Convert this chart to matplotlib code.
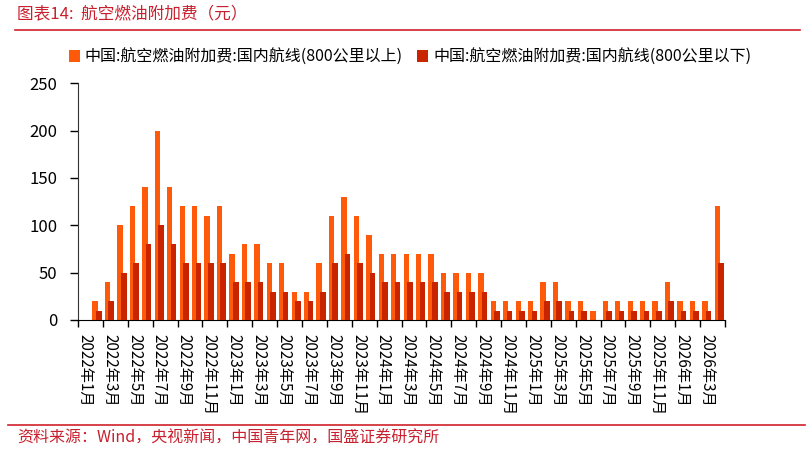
import numpy as np
import matplotlib
matplotlib.use("Agg")
import matplotlib.pyplot as plt
from matplotlib.lines import Line2D

plt.rcParams["font.family"] = ["Noto Sans CJK SC", "DejaVu Sans"]
plt.rcParams["axes.unicode_minus"] = False

# 国内航线燃油附加费（元），按月
above_800 = [20, 40, 100, 120, 140, 200, 140, 120, 120, 110, 120, 70, 80,
             80, 60, 60, 30, 30, 60, 110, 130, 110, 90, 70, 70, 70, 70, 70,
             50, 50, 50, 50, 20, 20, 20, 20, 40, 40, 20, 20, 10, 20, 20, 20,
             20, 20, 40, 20, 20, 20, 120]
below_800 = [10, 20, 50, 60, 80, 100, 80, 60, 60, 60, 60, 40, 40,
             40, 30, 30, 20, 20, 30, 60, 70, 60, 50, 40, 40, 40, 40, 40,
             30, 30, 30, 30, 10, 10, 10, 10, 20, 20, 10, 10, 0, 10, 10, 10,
             10, 10, 20, 10, 10, 10, 60]

x_labels = ["2022年1月", "2022年3月", "2022年5月", "2022年7月", "2022年9月", "2022年11月",
            "2023年1月", "2023年3月", "2023年5月", "2023年7月", "2023年9月", "2023年11月",
            "2024年1月", "2024年3月", "2024年5月", "2024年7月", "2024年9月", "2024年11月",
            "2025年1月", "2025年3月", "2025年5月", "2025年7月", "2025年9月", "2025年11月",
            "2026年1月", "2026年3月"]

label_above = "中国:航空燃油附加费:国内航线(800公里以上)"
label_below = "中国:航空燃油附加费:国内航线(800公里以下)"

c_orange = "#FF5A0A"
c_dark = "#C82400"
c_red = "#C8202E"

fig = plt.figure(figsize=(8.1, 4.5), dpi=100)
ax = fig.add_axes([78 / 810, 1 - 320 / 450, (725 - 78) / 810, (320 - 83.3) / 450])

n = len(above_800)
pos = np.arange(n) + 1  # 每个柱组所在月格的起点
ax.bar(pos + 0.38, above_800, width=0.43, color=c_orange, label=label_above, zorder=2)
ax.bar(pos + 0.675, below_800, width=0.45, color=c_dark, label=label_below, zorder=3)

ax.set_xlim(0, n + 1)
ax.set_ylim(0, 250)
ax.set_yticks(np.arange(0, 251, 50))
ax.tick_params(axis="y", labelsize=12, length=6, width=1, direction="out", pad=9)

ax.set_xticks(np.arange(0, n + 2, 2))
ax.set_xticklabels([])
ax.set_xticks(np.arange(len(x_labels)) * 2 + 0.55, x_labels, minor=True)
ax.tick_params(axis="x", which="major", length=5, width=1, direction="out")
ax.tick_params(axis="x", which="minor", length=0, pad=10, labelsize=11,
               labelrotation=270)
for t in ax.get_xticklabels(minor=True):
    t.set_verticalalignment("top")
    t.set_horizontalalignment("center")

for s in ["top", "right"]:
    ax.spines[s].set_visible(False)
ax.spines["left"].set_color("#333333")
ax.spines["bottom"].set_color("black")

ax.legend(loc="center", bbox_to_anchor=(410 / 810, 1 - 57 / 450),
          bbox_transform=fig.transFigure, ncol=2, frameon=False,
          fontsize=11.5, handlelength=0.7, handleheight=0.7,
          handletextpad=0.3, columnspacing=0.9, borderpad=0)

fig.text(17 / 810, 1 - 15 / 450, "图表14:  航空燃油附加费（元）", color=c_red,
         fontsize=12, style="italic", va="center", ha="left")
fig.add_artist(Line2D([15 / 810, 800 / 810], [1 - 30 / 450] * 2,
                      color="#D0202A", lw=1.2))
fig.add_artist(Line2D([8 / 810, 805 / 810], [1 - 425 / 450] * 2,
                      color="#D0202A", lw=1.2))
fig.text(17 / 810, 1 - 438 / 450, "资料来源：Wind，央视新闻，中国青年网，国盛证券研究所",
         color=c_red, fontsize=11.5, style="italic", va="center", ha="left")

fig.savefig("out.png", dpi=100)
